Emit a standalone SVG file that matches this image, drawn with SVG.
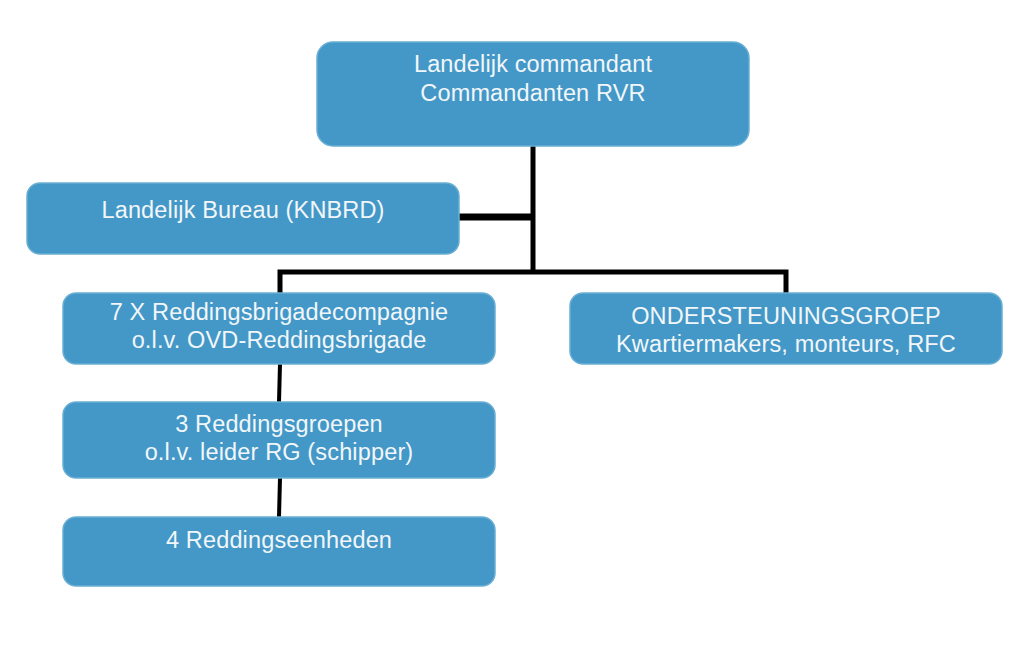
<svg xmlns="http://www.w3.org/2000/svg" width="1018" height="646" viewBox="0 0 1018 646">
<style>
.box{fill:#4398c7;stroke:#6aaed4;stroke-width:1.5}
.t{font-family:"Liberation Sans",Arial,sans-serif;font-size:23.5px;letter-spacing:0.15px;fill:#f2f6f9;text-anchor:middle}
.c{stroke:#000;fill:none}
</style>
<rect width="1018" height="646" fill="#fff"/>
<g id="connectors">
<line class="c" x1="533" y1="146" x2="533" y2="274" stroke-width="5"/>
<line class="c" x1="459" y1="217" x2="533" y2="217" stroke-width="7"/>
<polyline class="c" points="280,293 280,272 786,272 786,293" stroke-width="5"/>
<line class="c" x1="280" y1="364" x2="279" y2="402" stroke-width="4"/>
<line class="c" x1="280" y1="478" x2="279" y2="517" stroke-width="4"/>
</g>
<g id="n-top">
<rect class="box" x="317" y="42" width="432" height="104" rx="16"/>
<text class="t" x="533" y="72">Landelijk commandant</text>
<text class="t" x="533" y="101">Commandanten RVR</text>
</g>
<g id="n-bureau">
<rect class="box" x="27" y="183" width="432" height="71" rx="13"/>
<text class="t" x="243" y="218">Landelijk Bureau (KNBRD)</text>
</g>
<g id="n-compagnie">
<rect class="box" x="63" y="293" width="432" height="71" rx="13"/>
<text class="t" x="279" y="320">7 X Reddingsbrigadecompagnie</text>
<text class="t" x="279" y="348">o.l.v. OVD-Reddingsbrigade</text>
</g>
<g id="n-ondersteuning">
<rect class="box" x="570" y="293" width="432" height="71" rx="13"/>
<text class="t" x="786" y="324">ONDERSTEUNINGSGROEP</text>
<text class="t" x="786" y="352">Kwartiermakers, monteurs, RFC</text>
</g>
<g id="n-groepen">
<rect class="box" x="63" y="402" width="432" height="76" rx="13"/>
<text class="t" x="279" y="432">3 Reddingsgroepen</text>
<text class="t" x="279" y="460">o.l.v. leider RG (schipper)</text>
</g>
<g id="n-eenheden">
<rect class="box" x="63" y="517" width="432" height="69" rx="13"/>
<text class="t" x="279" y="548">4 Reddingseenheden</text>
</g>
</svg>
